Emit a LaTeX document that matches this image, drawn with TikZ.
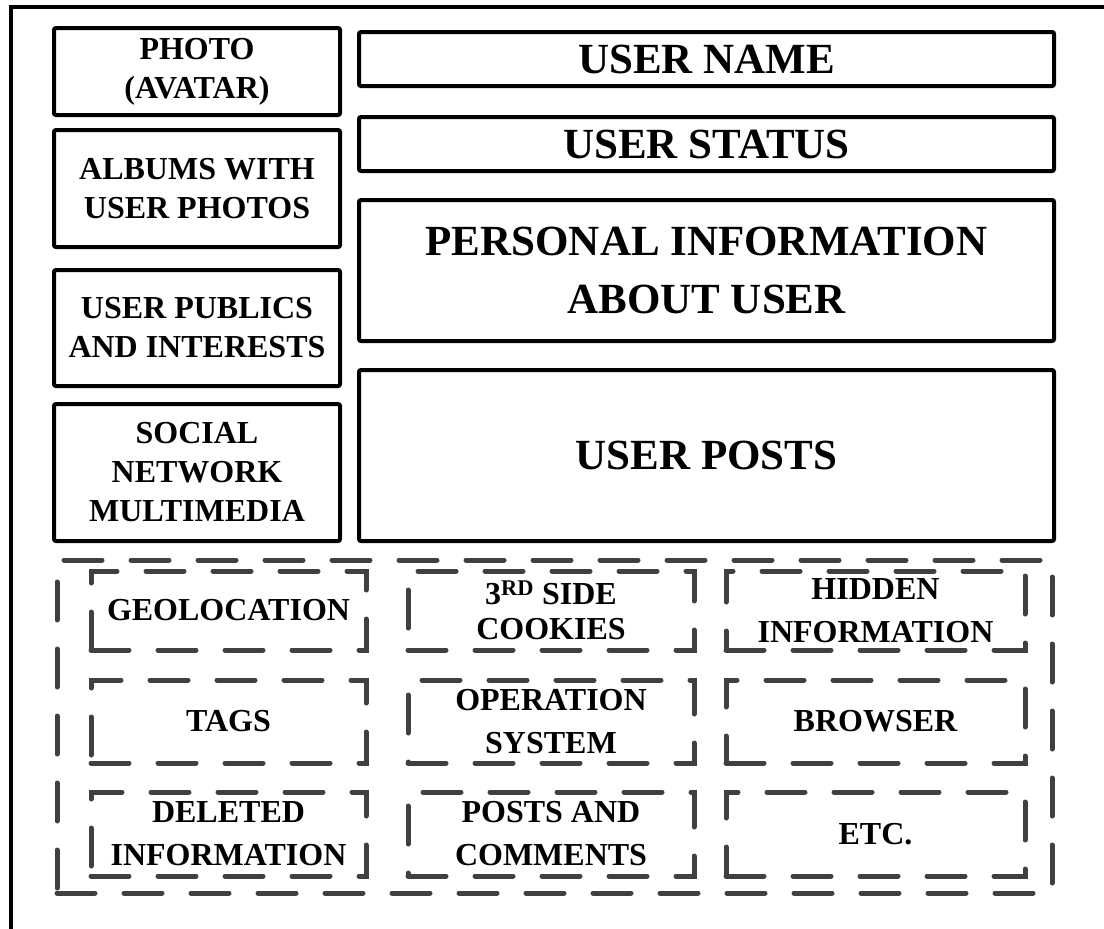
\documentclass[tikz,border=0pt]{standalone}
\usepackage{fontspec}
\setmainfont{Liberation Serif}
\definecolor{dashgray}{HTML}{404040}

\begin{document}
\begin{tikzpicture}[x=1pt,y=-1pt,
  solidbox/.style={draw, line width=4pt, rounded corners=2pt, align=center,
    inner sep=0pt, font=\bfseries\fontsize{32}{39}\selectfont},
  bigtext/.style={font=\bfseries\fontsize{43}{58}\selectfont},
  dashbox/.style={draw=dashgray, line width=5pt, line cap=round,
    dash pattern=on 38pt off 29pt, align=center, inner sep=0pt,
    font=\bfseries\fontsize{32}{43}\selectfont}]
\useasboundingbox (0,0) rectangle (1104,929);
%frame
\draw[line width=4pt] (11,929) -- (11,7) -- (1104,7);
%left column
\node[solidbox, minimum width=286pt, minimum height=87pt] (photo) at (197,71.5) {PHOTO\\(AVATAR)};
\node[solidbox, minimum width=286pt, minimum height=117pt] (albums) at (197,188.5) {ALBUMS WITH\\USER PHOTOS};
\node[solidbox, minimum width=286pt, minimum height=116pt] (publics) at (197,328) {USER PUBLICS\\AND INTERESTS};
\node[solidbox, minimum width=286pt, minimum height=137pt] (media) at (197,472.5) {SOCIAL\\NETWORK\\MULTIMEDIA};
%right column
\node[solidbox, bigtext, minimum width=695pt, minimum height=54pt] (name) at (706.5,59) {USER NAME};
\node[solidbox, bigtext, minimum width=695pt, minimum height=54pt] (status) at (706.5,144) {USER STATUS};
\node[solidbox, bigtext, minimum width=695pt, minimum height=141pt] (personal) at (706.5,270.5) {PERSONAL INFORMATION\\ABOUT USER};
\node[solidbox, bigtext, minimum width=695pt, minimum height=171pt] (posts) at (706.5,455.5) {USER POSTS};
%hidden data
\node[dashbox, minimum width=995pt, minimum height=333pt] (hidden) at (554.5,726.5) {};
\node[dashbox, minimum width=275pt, minimum height=79pt] (geo) at (228.5,610.5) {GEOLOCATION};
\node[dashbox, minimum width=286pt, minimum height=79pt] (cookies) at (551,610.5) {3\textsuperscript{RD} SIDE\\[-8pt]COOKIES};
\node[dashbox, minimum width=299pt, minimum height=79pt] (hiddeninfo) at (875.5,610.5) {HIDDEN\\INFORMATION};
\node[dashbox, minimum width=275pt, minimum height=83pt] (tags) at (228.5,721.5) {TAGS};
\node[dashbox, minimum width=286pt, minimum height=83pt] (os) at (551,721.5) {OPERATION\\SYSTEM};
\node[dashbox, minimum width=299pt, minimum height=83pt] (browser) at (875.5,721.5) {BROWSER};
\node[dashbox, minimum width=275pt, minimum height=84pt] (deleted) at (228.5,834) {DELETED\\INFORMATION};
\node[dashbox, minimum width=286pt, minimum height=84pt] (comments) at (551,834) {POSTS AND\\COMMENTS};
\node[dashbox, minimum width=299pt, minimum height=84pt] (etc) at (875.5,834) {ETC.};
\end{tikzpicture}
\end{document}
